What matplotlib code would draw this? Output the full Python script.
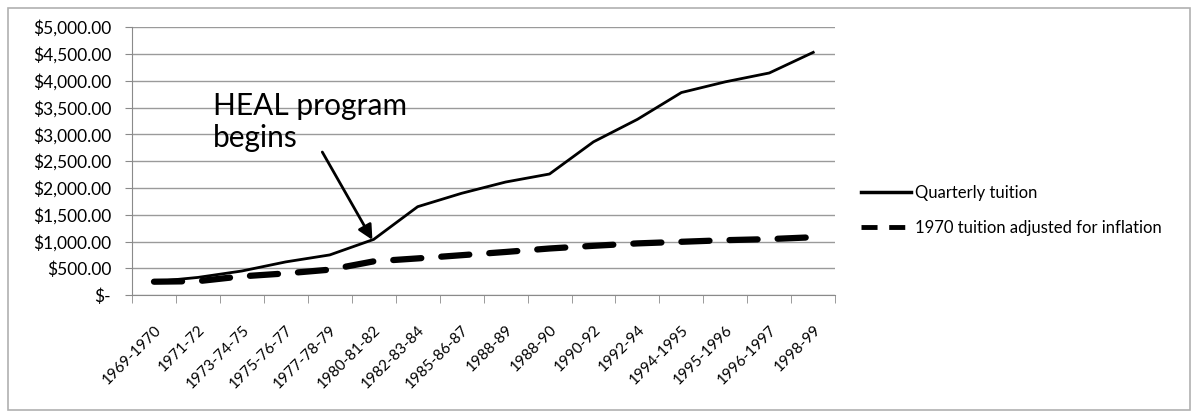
import matplotlib.pyplot as plt
from matplotlib.ticker import FuncFormatter
from matplotlib.patches import Rectangle
from matplotlib.lines import Line2D

years = ["1969-1970", "1971-72", "1973-74-75", "1975-76-77", "1977-78-79",
         "1980-81-82", "1982-83-84", "1985-86-87", "1988-89", "1988-90",
         "1990-92", "1992-94", "1994-1995", "1995-1996", "1996-1997", "1998-99"]
quarterly = [250, 330, 450, 620, 750, 1040, 1650, 1900, 2110, 2260,
             2860, 3280, 3780, 3980, 4145, 4530]
adjusted = [250, 260, 350, 405, 475, 630, 685, 745, 805, 870,
            920, 965, 995, 1025, 1045, 1080]

plt.rcParams['font.family'] = ['Lato', 'DejaVu Sans']

fig = plt.figure(figsize=(12, 4.18), dpi=100)
ax = fig.add_axes([0.11, 0.294, 0.586, 0.641])

# outer chart border
fig.patches.append(Rectangle((0.007, 0.02), 0.985, 0.962, transform=fig.transFigure,
                             fill=False, edgecolor='#b0b0b0', linewidth=1.2))

x = list(range(len(years)))
ax.plot(x, quarterly, color='black', lw=2)
ax.plot(x, adjusted, color='black', lw=4.5, dashes=(4.5, 3.2), dash_capstyle='round')

ax.set_xlim(-0.5, len(years) - 0.5)
ax.set_ylim(0, 5000)
ax.set_yticks(range(0, 5001, 500))
ax.yaxis.set_major_formatter(FuncFormatter(lambda v, p: '$-' if v == 0 else '${:,.2f}'.format(v)))
ax.grid(axis='y', color='#9a9a9a', lw=1)
ax.set_axisbelow(True)

ax.set_xticks(x)
ax.set_xticklabels(years, rotation=45, ha='right', rotation_mode='anchor')
ax.set_xticks([i - 0.5 for i in range(len(years) + 1)], minor=True)
ax.tick_params(axis='x', which='major', length=0, pad=20, labelsize=11)
ax.tick_params(axis='x', which='minor', length=6, color='#8a8a8a', direction='out')
ax.tick_params(axis='y', length=5, color='#8a8a8a', labelsize=12.5, pad=10)

for s in ['top', 'right']:
    ax.spines[s].set_visible(False)
for s in ['left', 'bottom']:
    ax.spines[s].set_color('#8a8a8a')

# annotation: text and arrow drawn separately
ax.text(1.34, 3230, 'HEAL program\nbegins', fontsize=21.5, ha='left', va='center',
        linespacing=1.2)
ax.annotate('', xy=(4.97, 1030), xytext=(3.83, 2670),
            arrowprops=dict(arrowstyle='-|>', color='black', lw=2, mutation_scale=22,
                            shrinkA=0, shrinkB=0))

# legend handles (short dashes so two dashes show, like the original)
handles = [Line2D([], [], color='black', lw=2.5),
           Line2D([], [], color='black', lw=3.5, dashes=(3.3, 2.4))]
labels = ['Quarterly tuition', '1970 tuition adjusted for inflation']
ax.legend(handles, labels, loc='center left', bbox_to_anchor=(1.015, 0.317), frameon=False,
          fontsize=12, handlelength=3.0, handletextpad=0.25, labelspacing=1.15)

fig.savefig('out.png')
